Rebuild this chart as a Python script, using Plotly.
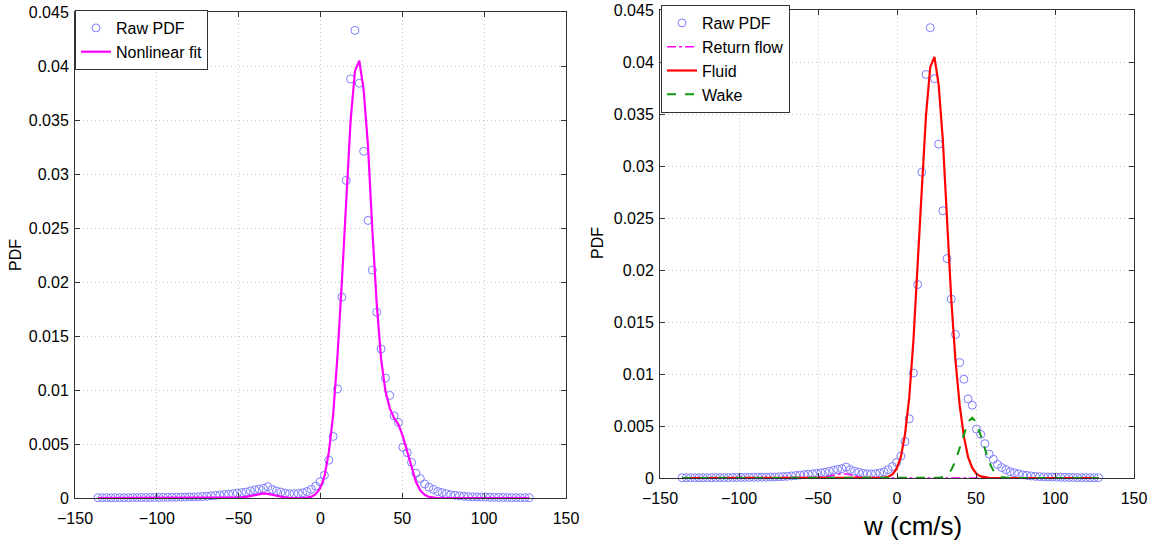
import numpy as np
import plotly.graph_objects as go

# bin centres of the velocity histogram (cm/s)
w_bins = np.linspace(-136.0, 127.5, 100)

raw_pdf = [
    0.00003, 0.00003, 0.00003, 0.00003, 0.00003, 0.00003, 0.00003, 0.00003, 0.00004, 0.00004,
    0.00004, 0.00004, 0.00005, 0.00005, 0.00005, 0.00006, 0.00006, 0.00007, 0.00007, 0.00008,
    0.00008, 0.0001, 0.0001, 0.00012, 0.00014, 0.00016, 0.0002, 0.00024, 0.00028, 0.00032,
    0.00036, 0.0004, 0.00045, 0.0005, 0.00055, 0.00065, 0.00075, 0.00082, 0.0009, 0.00105,
    0.0008, 0.00065, 0.00055, 0.00045, 0.0004, 0.0004, 0.00042, 0.00048, 0.0006, 0.0008,
    0.0011, 0.0015, 0.0021, 0.0035, 0.0057, 0.0101, 0.0186, 0.0294, 0.0388, 0.0433,
    0.0384, 0.0321, 0.0257, 0.0211, 0.0172, 0.0138, 0.0111, 0.0095, 0.0076, 0.0070,
    0.0047, 0.0042, 0.0033, 0.0023, 0.0018, 0.0013, 0.0010, 0.0008, 0.0006, 0.0005,
    0.0004, 0.0003, 0.00025, 0.0002, 0.00016, 0.00013, 0.00011, 0.0001, 0.00009, 0.00008,
    0.00007, 0.00006, 0.00005, 0.00005, 0.00004, 0.00004, 0.00004, 0.00003, 0.00003, 0.00003,
]

nonlinear_fit = [0.0] * 32 + [
    0.00002, 0.00005, 0.00011, 0.0002, 0.0003, 0.00039, 0.00042, 0.00038, 0.00029, 0.00019,
    0.0001, 0.00005, 0.00002, 0.0, 0.0, 0.0, 0.00004, 0.00012, 0.00035, 0.00088,
    0.0020, 0.0042, 0.0077, 0.0132, 0.0200, 0.0278, 0.0349, 0.0395, 0.0405, 0.0378,
    0.0326, 0.0248, 0.0180, 0.0129, 0.0099, 0.0083, 0.0074, 0.0068, 0.0057, 0.0043,
    0.0028, 0.0015, 0.0007, 0.0003, 0.0001, 0.00003,
] + [0.0] * 22

return_flow = [0.0] * 32 + [
    0.00002, 0.00005, 0.00011, 0.0002, 0.0003, 0.00039, 0.00042, 0.00038, 0.00029, 0.00019,
    0.0001, 0.00005, 0.00002,
] + [0.0] * 55

fluid = [0.0] * 48 + [
    0.00004, 0.00012, 0.00035, 0.00088, 0.0020, 0.0042, 0.0077, 0.0132, 0.0200, 0.0278,
    0.0349, 0.0395, 0.0405, 0.0378, 0.0325, 0.0245, 0.0172, 0.0113, 0.0070, 0.0040,
    0.0020, 0.00097, 0.0004, 0.00016, 0.00005, 0.00001,
] + [0.0] * 26

wake = [0.0] * 61 + [
    0.00003, 0.00011, 0.00033, 0.00078, 0.00164, 0.00289, 0.00425, 0.0054, 0.0058, 0.0053,
    0.0041, 0.00273, 0.00152, 0.00072, 0.0003, 0.0001, 0.00003,
] + [0.0] * 22

x_ticks = [-150, -100, -50, 0, 50, 100, 150]

W, H = 1161, 546
FONT = "Liberation Sans, Arial, Helvetica, sans-serif"
MARK = "rgb(125,125,255)"

fig = go.Figure()

marker = dict(symbol="circle-open", size=8, color=MARK, line=dict(width=1, color=MARK))

# ---- left panel
fig.add_trace(go.Scatter(x=w_bins, y=raw_pdf, mode="markers", name="Raw PDF",
                         marker=marker, cliponaxis=False, xaxis="x", yaxis="y",
                         legend="legend"))
fig.add_trace(go.Scatter(x=w_bins, y=nonlinear_fit, mode="lines", name="Nonlinear fit",
                         line=dict(color="#ff00ff", width=2.2), cliponaxis=False,
                         xaxis="x", yaxis="y", legend="legend"))

# ---- right panel
fig.add_trace(go.Scatter(x=w_bins, y=raw_pdf, mode="markers", name="Raw PDF",
                         marker=marker, cliponaxis=False, xaxis="x2", yaxis="y2",
                         legend="legend2"))
fig.add_trace(go.Scatter(x=w_bins, y=return_flow, mode="lines", name="Return flow",
                         line=dict(color="#ff00ff", width=1.5, dash="dashdot"),
                         cliponaxis=False, xaxis="x2", yaxis="y2", legend="legend2"))
fig.add_trace(go.Scatter(x=w_bins, y=fluid, mode="lines", name="Fluid",
                         line=dict(color="#ff0000", width=2.2), cliponaxis=False,
                         xaxis="x2", yaxis="y2", legend="legend2"))
fig.add_trace(go.Scatter(x=w_bins, y=wake, mode="lines", name="Wake",
                         line=dict(color="#119911", width=2, dash="dash"),
                         cliponaxis=False, xaxis="x2", yaxis="y2", legend="legend2"))


def xax(domain, anchor):
    return dict(domain=domain, anchor=anchor, range=[-150, 150], tickvals=x_ticks,
                automargin=False,
                showgrid=True, gridcolor="#c8c8c8", griddash="1px,3px", gridwidth=1,
                zeroline=False, showline=True, linecolor="#333", linewidth=1,
                mirror="ticks", ticks="inside", ticklen=5, tickcolor="#333",
                ticklabelstandoff=6,
                tickfont=dict(size=16, family=FONT, color="black"))


def yax(domain, anchor):
    return dict(domain=domain, anchor=anchor, range=[0, 0.045], dtick=0.005, tick0=0,
                automargin=False,
                showgrid=True, gridcolor="#c8c8c8", griddash="1px,3px", gridwidth=1,
                zeroline=False, showline=True, linecolor="#333", linewidth=1,
                mirror="ticks", ticks="inside", ticklen=5, tickcolor="#333",
                ticklabelstandoff=2,
                tickfont=dict(size=16, family=FONT, color="black"))


legend_style = dict(xanchor="left", yanchor="top", bgcolor="white", bordercolor="#333",
                    borderwidth=1, font=dict(size=16, family=FONT, color="black"),
                    tracegroupgap=0)

fig.update_layout(
    width=W, height=H, autosize=False,
    margin=dict(l=0, r=0, t=0, b=0, autoexpand=False),
    paper_bgcolor="white", plot_bgcolor="white",
    font=dict(family=FONT, size=16, color="black"),
    xaxis=xax([75 / W, 566 / W], "y"),
    yaxis=yax([1 - 498 / H, 1 - 12 / H], "x"),
    xaxis2=xax([660 / W, 1134 / W], "y2"),
    yaxis2=yax([1 - 478 / H, 1 - 10 / H], "x2"),
    legend=dict(x=75 / W, y=1 - 10 / H, **legend_style),
    legend2=dict(x=661 / W, y=1 - 5 / H, **legend_style),
    annotations=[
        dict(text="PDF", x=15 / W, y=1 - 255 / H, xref="paper", yref="paper",
             xanchor="center", yanchor="middle",
             showarrow=False, textangle=-90, font=dict(size=16, family=FONT)),
        dict(text="PDF", x=598 / W, y=1 - 243 / H, xref="paper", yref="paper",
             xanchor="center", yanchor="middle",
             showarrow=False, textangle=-90, font=dict(size=16, family=FONT)),
        dict(text="w (cm/s)", x=912 / W, y=1 - 526 / H, xref="paper", yref="paper",
             xanchor="center", yanchor="middle",
             showarrow=False, font=dict(size=26, family=FONT)),
    ],
)

fig.write_html("out.html")
